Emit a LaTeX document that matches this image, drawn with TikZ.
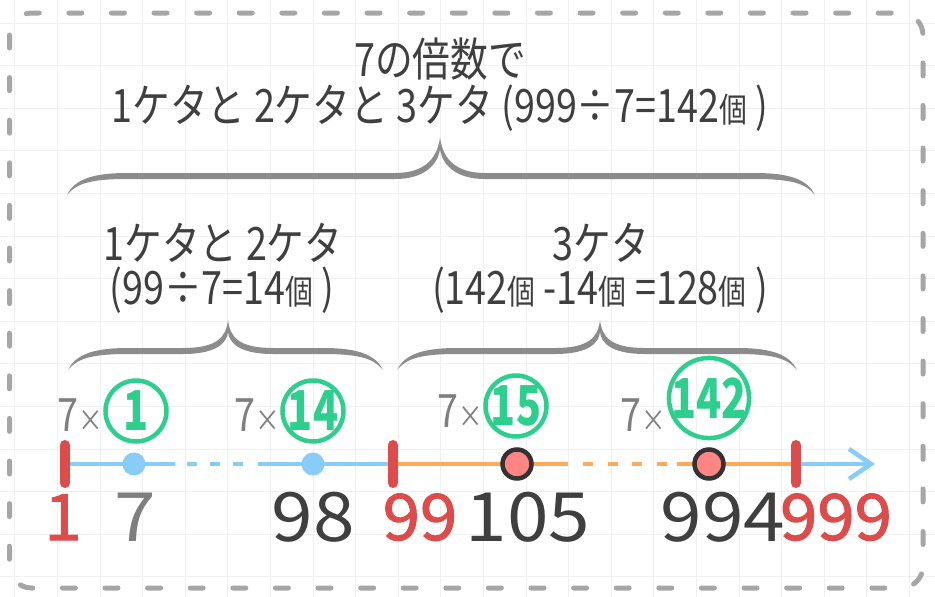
\documentclass[tikz,border=0pt]{standalone}
\usepackage{fontspec}
\setmainfont{Noto Sans CJK JP}
\newfontfamily\jp[FakeStretch=0.82]{Noto Sans CJK JP}
\newfontfamily\numfont[FakeStretch=1.1]{Noto Sans CJK JP}
\newfontfamily\rednum[FakeStretch=1.05,FakeBold=1.6]{Noto Sans CJK JP}
\newfontfamily\gnumfont[FakeStretch=0.75]{Noto Sans CJK JP}
\usetikzlibrary{arrows.meta}

\definecolor{txtdark}{HTML}{3F3F3F}
\definecolor{txtgrey}{HTML}{7F7F7F}
\definecolor{numgreen}{HTML}{2DCF8E}
\definecolor{tickred}{HTML}{DE4B4B}
\definecolor{lineblue}{HTML}{88CCF8}
\definecolor{lineorange}{HTML}{FFAA5A}
\definecolor{dotpink}{HTML}{FF8585}
\definecolor{dotline}{HTML}{333333}
\definecolor{bracecol}{HTML}{8C8C8C}
\definecolor{bordercol}{HTML}{A6A6A6}

% 个数の小さい字
\newcommand\ko[1]{{\fontsize{34}{34}\selectfont #1}}
% 波かっこ: 左端x, 右端x, 先端x, 端y, 先端y
\newcommand\gbrace[5]{%
  \fill[bracecol] (#1,#4)
    .. controls ({#1+7},{#4-14}) and ({#1+22},{#4-22}) .. ({#1+60},{#4-22})
    -- ({#3-45},{#4-22})
    .. controls ({#3-12},{#4-22}) and ({#3-2},{#5+18}) .. (#3,#5)
    .. controls ({#3+2},{#5+18}) and ({#3+12},{#4-22}) .. ({#3+45},{#4-22})
    -- ({#2-60},{#4-22})
    .. controls ({#2-22},{#4-22}) and ({#2-7},{#4-14}) .. (#2,#4)
    .. controls ({#2-9},{#4-11}) and ({#2-22},{#4-16}) .. ({#2-60},{#4-16})
    -- ({#3+45},{#4-16})
    .. controls ({#3+10},{#4-16}) and ({#3+1},{#5+22}) .. (#3,{#5+12})
    .. controls ({#3-1},{#5+22}) and ({#3-10},{#4-16}) .. ({#3-45},{#4-16})
    -- ({#1+60},{#4-16})
    .. controls ({#1+22},{#4-16}) and ({#1+9},{#4-11}) .. cycle;}

\tikzset{
  ttl/.style={text=txtdark, inner sep=0pt, anchor=base, text height=34pt, text depth=1pt,
    font=\jp\fontsize{46}{46}\selectfont},
  mul/.style={text=txtgrey, inner sep=0pt, anchor=base east, font=\jp\fontsize{46}{46}\selectfont},
  gnum/.style={circle, draw=numgreen, line width=4.5pt, text=numgreen, inner sep=-2pt,
    minimum size=61pt, font=\gnumfont\bfseries\fontsize{55}{55}\selectfont},
  bdot/.style={circle, fill=lineblue, inner sep=0pt, minimum size=23pt},
  pdot/.style={circle, fill=dotpink, draw=dotline, line width=4.5pt, inner sep=0pt, minimum size=29pt},
  redtick/.style={draw=tickred, line width=10pt, line cap=round},
  bline/.style={draw=lineblue, line width=4.5pt},
  oline/.style={draw=lineorange, line width=4.5pt},
  dlab/.style={text=txtdark, inner sep=0pt, anchor=base, font=\numfont\fontsize{68}{68}\selectfont},
  glab/.style={dlab, text=txtgrey},
  redlab/.style={text=tickred, inner sep=0pt, anchor=base, font=\rednum\fontsize{64}{64}\selectfont},
  gridline/.style={draw=gray!12, line width=0.8pt},
  border/.style={draw=bordercol, line width=5pt, line cap=round, dash pattern=on 13pt off 29.6pt,
    rounded corners=22pt},
}

\begin{document}
\begin{tikzpicture}[x=1pt,y=-1pt]
  \useasboundingbox (0,0) rectangle (935,597);
  \fill[white] (0,0) rectangle (935,597);
  % 背景の方眼
  \foreach \i in {0,...,21} \draw[gridline] ({14.7+42.6*\i},0) -- ++(0,597);
  \foreach \j in {0,...,13} \draw[gridline] (0,{23+42.6*\j}) -- ++(935,0);
  \draw[border] (9.5,13) rectangle (923,588);

  % 見出し
  \node[ttl] (title1) at (440,76) {7の倍数で};
  \node[ttl] (title2) at (440,122) {1ケタと 2ケタと 3ケタ (999÷7=142\ko{個} )};
  \node[ttl] (sub1a) at (223,260) {1ケタと 2ケタ};
  \node[ttl] (sub1b) at (222,304) {(99÷7=14\ko{個} )};
  \node[ttl] (sub2a) at (601,260) {3ケタ};
  \node[ttl] (sub2b) at (600,304) {(142\ko{個} -14\ko{個} =128\ko{個} )};

  % 波かっこ
  \gbrace{67}{815}{440}{195}{137}
  \gbrace{68}{383}{228}{370}{320}
  \gbrace{397}{797}{600}{370}{320}

  % 数直線
  \coordinate (p1) at (65,464);
  \coordinate (p2) at (393,464);
  \coordinate (p3) at (796,464);
  \coordinate (pend) at (875,464);
  \draw[bline] (p1) -- (175,464);
  \draw[bline, dash pattern=on 10pt off 13pt] (187,464) -- (247,464);
  \draw[bline] (258,464) -- (p2);
  \draw[oline] (p2) -- (568,464);
  \draw[oline, dash pattern=on 10pt off 14.5pt] (583,464) -- (667,464);
  \draw[oline] (677,464) -- (p3);
  \draw[bline, -{Straight Barb[length=22pt,width=30pt]}] (p3) -- (pend);
  \draw[redtick] (p1) ++(0,-19) -- ++(0,38);
  \draw[redtick] (p2) ++(0,-19) -- ++(0,38);
  \draw[redtick] (p3) ++(0,-19) -- ++(0,38);

  \node[bdot] (d1) at (134,464) {};
  \node[bdot] (d14) at (313,464) {};
  \node[pdot] (d15) at (517,464) {};
  \node[pdot] (d142) at (709,464) {};

  % 7×○
  \node[gnum] (c1) at (136,411) {1};
  \node[gnum] (c14) at (313,411) {14};
  \node[gnum] (c15) at (516,406) {15};
  \node[gnum, minimum size=80pt] (c142) at (709,398) {142};
  \node[mul] (m1) at (c1.west |- 0,431) {7{\fontsize{30}{30}\selectfont ×}};
  \node[mul] (m14) at (c14.west |- 0,431) {7{\fontsize{30}{30}\selectfont ×}};
  \node[mul] (m15) at (c15.west |- 0,427) {7{\fontsize{30}{30}\selectfont ×}};
  \node[mul] (m142) at (c142.west |- 0,431) {7{\fontsize{30}{30}\selectfont ×}};

  % 目もりの数
  \node[redlab] (n1) at (63,540) {1};
  \node[glab] (n7) at (135,541) {7};
  \node[dlab] (n98) at (313,541) {98};
  \node[redlab] (n99) at (420,540) {99};
  \node[dlab] (n105) at (528,541) {105};
  \node[dlab] (n994) at (723,541) {994};
  \node[redlab] (n999) at (836,540) {999};
\end{tikzpicture}
\end{document}
